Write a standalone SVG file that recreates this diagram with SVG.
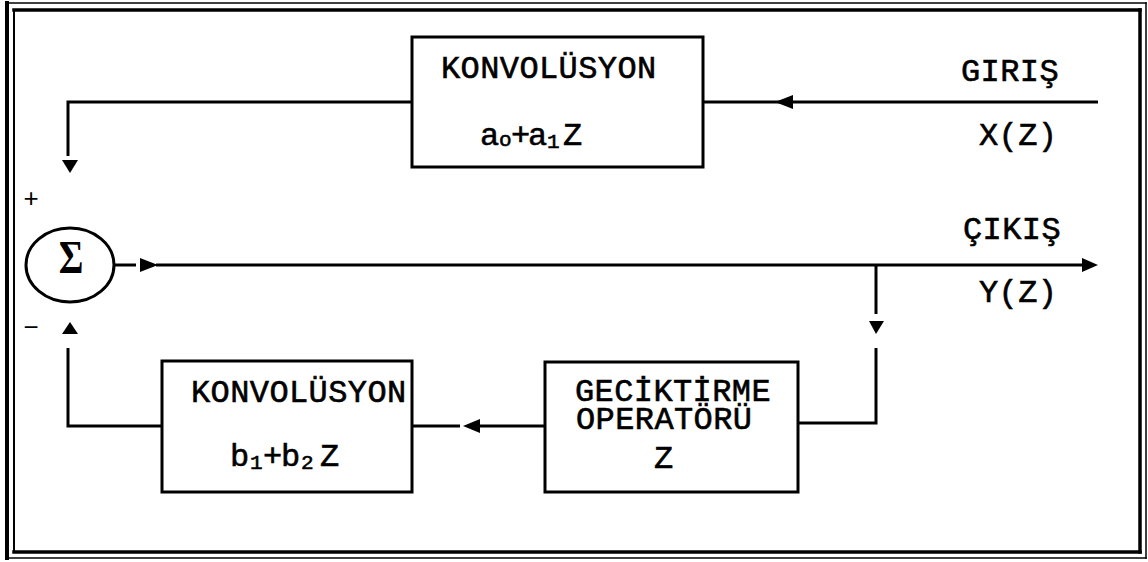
<svg xmlns="http://www.w3.org/2000/svg" width="1148" height="562" viewBox="0 0 1148 562">
  <style>
    .frame { stroke: #000; fill: none; stroke-linecap: square; }
    .box { fill: #fff; stroke: #000; stroke-width: 3; }
    .wire { fill: none; stroke: #000; stroke-width: 3; stroke-linejoin: miter; }
    .head { fill: #000; stroke: none; }
    .lbl { font-family: "Liberation Mono", "Courier New", monospace; font-size: 32px; letter-spacing: 0.4px; fill: #000; stroke: #000; stroke-width: 0.6px; }
    .sub { font-size: 21px; letter-spacing: 0; }
    .sign { font-family: "Liberation Sans", Arial, sans-serif; font-size: 26px; fill: #000; }
  </style>
  <rect width="1148" height="562" fill="#fff"/>

  <!-- double page frame -->
  <g id="frame">
    <line class="frame" x1="7" y1="3" x2="7" y2="558" stroke-width="4"/>
    <line class="frame" x1="7" y1="3" x2="1146" y2="3" stroke-width="1.5"/>
    <line class="frame" x1="1146" y1="3" x2="1146" y2="558" stroke-width="1.5"/>
    <line class="frame" x1="7" y1="558" x2="1146" y2="558" stroke-width="1.5"/>
    <line class="frame" x1="14" y1="10" x2="14" y2="552" stroke-width="2"/>
    <line class="frame" x1="14" y1="10" x2="1140" y2="10" stroke-width="3.5"/>
    <line class="frame" x1="1140" y1="10" x2="1140" y2="552" stroke-width="3.5"/>
    <line class="frame" x1="14" y1="552" x2="1140" y2="552" stroke-width="3.5"/>
  </g>

  <!-- connectors -->
  <g id="connectors">
    <!-- input X(Z) into the forward convolution -->
    <line class="wire" x1="1098" y1="102" x2="704" y2="102"/>
    <polygon class="head" points="775,102 793,95 793,109"/>
    <!-- forward convolution to summing junction (+) -->
    <polyline class="wire" points="412,102 68,102 68,156"/>
    <polygon class="head" points="62,160 78,160 70,173"/>
    <!-- summing junction output Y(Z) -->
    <line class="wire" x1="114" y1="265" x2="136" y2="265"/>
    <polygon class="head" points="140,258 140,272 158,265"/>
    <line class="wire" x1="156" y1="265" x2="1083" y2="265"/>
    <polygon class="head" points="1082,258 1082,272 1098,265"/>
    <!-- tap of the output to the delay operator -->
    <line class="wire" x1="876" y1="265" x2="876" y2="314"/>
    <polygon class="head" points="869,321 884,321 876,334"/>
    <polyline class="wire" points="876,348 876,423 798,423"/>
    <!-- delay operator to feedback convolution -->
    <line class="wire" x1="545" y1="426" x2="479" y2="426"/>
    <polygon class="head" points="463,426 480,419 480,433"/>
    <line class="wire" x1="460" y1="426" x2="412" y2="426"/>
    <!-- feedback convolution to summing junction (-) -->
    <polyline class="wire" points="162,426 68,426 68,348"/>
    <polygon class="head" points="62,334 78,334 70,322"/>
  </g>

  <!-- forward convolution block -->
  <g id="conv-forward">
    <rect class="box" x="412" y="37" width="291" height="130"/>
    <text class="lbl" x="441" y="78">KONVOLÜSYON</text>
    <text class="lbl" y="145"><tspan x="480">a</tspan><tspan class="sub" x="499" dy="1">o</tspan><tspan x="511" dy="-1">+</tspan><tspan x="528">a</tspan><tspan class="sub" x="547" dy="3">1</tspan><tspan x="563" dy="-3">Z</tspan></text>
  </g>

  <!-- summing junction -->
  <g id="sum">
    <ellipse cx="70" cy="265" rx="44" ry="37" fill="#fff" stroke="#000" stroke-width="3"/>
    <text x="71" y="273" text-anchor="middle" transform="translate(71 0) scale(0.82 1) translate(-71 0)" font-family="Liberation Serif, Times New Roman, serif" font-weight="bold" font-size="46">Σ</text>
    <text class="sign" x="31" y="207" text-anchor="middle">+</text>
    <text class="sign" x="31" y="336" text-anchor="middle">−</text>
  </g>

  <!-- feedback convolution block -->
  <g id="conv-feedback">
    <rect class="box" x="162" y="361" width="250" height="131"/>
    <text class="lbl" x="191" y="402">KONVOLÜSYON</text>
    <text class="lbl" y="466"><tspan x="230">b</tspan><tspan class="sub" x="250" dy="3">1</tspan><tspan x="263" dy="-3">+</tspan><tspan x="281">b</tspan><tspan class="sub" x="301" dy="3">2</tspan><tspan x="320" dy="-3">Z</tspan></text>
  </g>

  <!-- delay operator block -->
  <g id="delay">
    <rect class="box" x="545" y="362" width="253" height="130"/>
    <text class="lbl" x="575" y="401">GECİKTİRME</text>
    <text class="lbl" x="576" y="429">OPERATÖRÜ</text>
    <text class="lbl" x="654" y="468">Z</text>
  </g>

  <!-- signal labels -->
  <g id="labels">
    <text class="lbl" x="961" y="81">GIRIŞ</text>
    <text class="lbl" x="979" y="145">X(Z)</text>
    <text class="lbl" x="963" y="239">ÇIKIŞ</text>
    <text class="lbl" x="979" y="302">Y(Z)</text>
  </g>
</svg>
